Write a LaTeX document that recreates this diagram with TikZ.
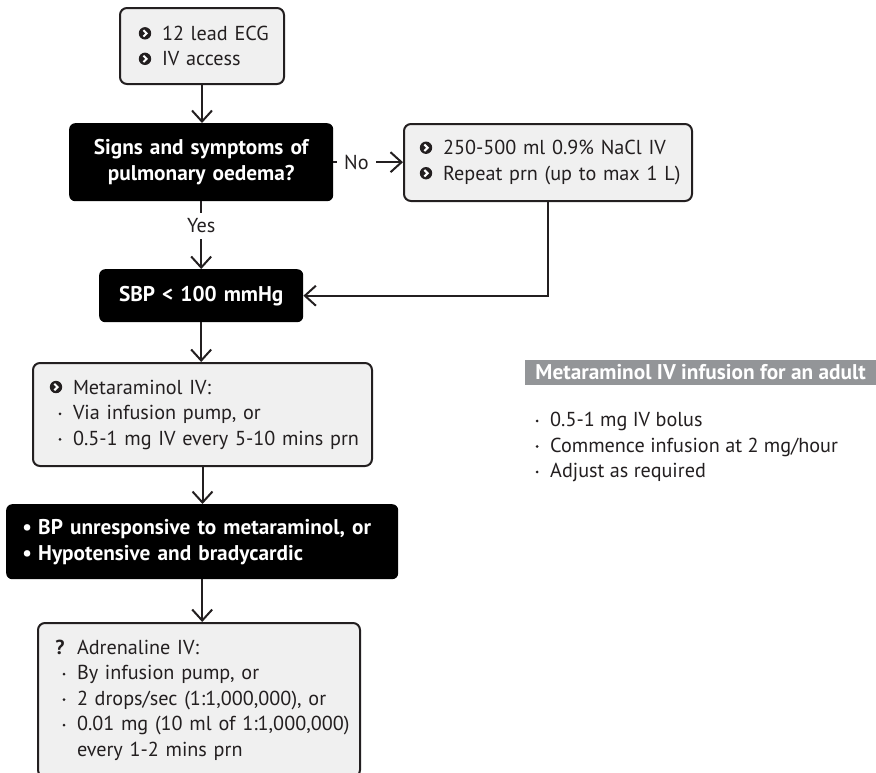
\documentclass[tikz,border=0pt]{standalone}
\usepackage{fontspec}
\setmainfont{PT Sans}
\usetikzlibrary{arrows.meta}

\definecolor{boxfill}{RGB}{240,240,240}
\definecolor{hdrgray}{RGB}{147,149,152}
\definecolor{ink}{RGB}{35,31,32}

% circled chevron bullet
\newsavebox\chevbox
\sbox\chevbox{\tikz[baseline=0pt]{
  \fill[ink] (6.2pt,7pt) circle (6.2pt);
  \draw[white,line width=2pt,line join=miter] (4.6pt,10.2pt) -- (7.8pt,7pt) -- (4.6pt,3.8pt);}}
% small round bullet
\newsavebox\dotbox
\sbox\dotbox{\tikz[baseline=0pt]{\fill[ink] (0,5.6pt) circle (1.5pt);}}

% list lines, kept unbroken
\newcommand\chv[1]{\mbox{\makebox[12pt][c]{\usebox\chevbox}\hspace{11pt}#1}}
\newcommand\dtt[1]{\mbox{\hspace{6pt}\makebox[8pt][c]{\usebox\dotbox}\hspace{9pt}#1}}
\newcommand\qmk[1]{\mbox{\makebox[12pt][c]{\bfseries ?}\hspace{11pt}#1}}
\newcommand\blk[1]{\mbox{\makebox[8pt][c]{•}\hspace{7pt}#1}}
\newcommand\cnt[1]{\mbox{\hspace{23pt}#1}}
\newcommand\txtfont{\fontsize{20.2}{25.5}\selectfont}
\newcommand\bldfont{\bfseries\fontsize{21.3}{26}\selectfont}

\begin{document}
\begin{tikzpicture}[x=1pt,y=-1pt,
  lbox/.style={draw=ink,line width=2pt,fill=boxfill,rounded corners=7pt,
    anchor=north west,align=left,inner xsep=17pt,inner ysep=0pt,text=ink,font=\txtfont},
  dbox/.style={fill=black,text=white,rounded corners=6pt,anchor=north west,
    align=center,inner sep=0pt,font=\bldfont},
  conn/.style={draw=ink,line width=2pt,-{Straight Barb[length=11pt,width=20pt]}},
  lbl/.style={fill=white,text=ink,inner xsep=7pt,inner ysep=6pt,font=\txtfont},
  hdr/.style={fill=hdrgray,text=white,inner xsep=10pt,inner ysep=0pt,minimum height=25pt,
    font=\bldfont},
  lst/.style={align=left,text=ink,inner sep=0pt,anchor=north west,font=\txtfont}]
\useasboundingbox (0,0) rectangle (876,772);
\clip (0,0) rectangle (876,772);

% flowchart boxes
\node[lbox,inner xsep=19pt,text width=126pt,minimum height=76pt] (ecg) at (119,7)
  {\chv{12 lead ECG}\\\chv{IV access}};
\node[dbox,text width=264pt,minimum height=78pt] (oed) at (69,123)
  {Signs and symptoms of\\pulmonary oedema?};
\node[lbox,inner xsep=16pt,text width=256pt,minimum height=77pt] (nacl) at (403,123)
  {\chv{250-500 ml 0.9\% NaCl IV}\\\chv{Repeat prn (up to max 1 L)}};
\node[dbox,text width=204pt,minimum height=53pt] (sbp) at (99,269)
  {SBP < 100 mmHg};
\node[lbox,text width=305pt,minimum height=103pt] (meta) at (32,362)
  {\chv{Metaraminol IV:}\\\dtt{Via infusion pump, or}\\\dtt{0.5-1 mg IV every 5-10 mins prn}};
\node[dbox,align=left,inner xsep=17pt,text width=358pt,minimum height=75pt] (unr) at (6,504)
  {\blk{BP unresponsive to metaraminol, or}\\\blk{Hypotensive and bradycardic}};
\node[lbox,inner xsep=16pt,text width=290pt,minimum height=154pt] (adr) at (37,622)
  {\qmk{Adrenaline IV:}\\\dtt{By infusion pump, or}\\\dtt{2 drops/sec (1:1,000,000), or}\\
   \dtt{0.01 mg (10 ml of 1:1,000,000)}\\\cnt{every 1-2 mins prn}};

% connectors
\draw[conn] (ecg.south) -- (ecg.south |- oed.north);
\draw[conn] (oed.east) -- node[lbl,pos=0.33] (no) {No} (oed.east -| nacl.west);
\draw[conn] (oed.south) -- node[lbl,pos=0.36] (yes) {Yes} (oed.south |- sbp.north);
\draw[conn] (nacl.south) |- (sbp.east);
\draw[conn] (sbp.south) -- (sbp.south |- meta.north);
\draw[conn] (meta.south) -- (meta.south |- unr.north);
\draw[conn] (unr.south) -- (unr.south |- adr.north);

% infusion panel
\node[hdr,anchor=east] (hd) at (876,372.5) {Metaraminol IV infusion for an adult\hspace{6pt}};
\node[lst] (dose) at (527,412)
  {\dtt{0.5-1 mg IV bolus}\\\dtt{Commence infusion at 2 mg/hour}\\\dtt{Adjust as required}};
\end{tikzpicture}
\end{document}
